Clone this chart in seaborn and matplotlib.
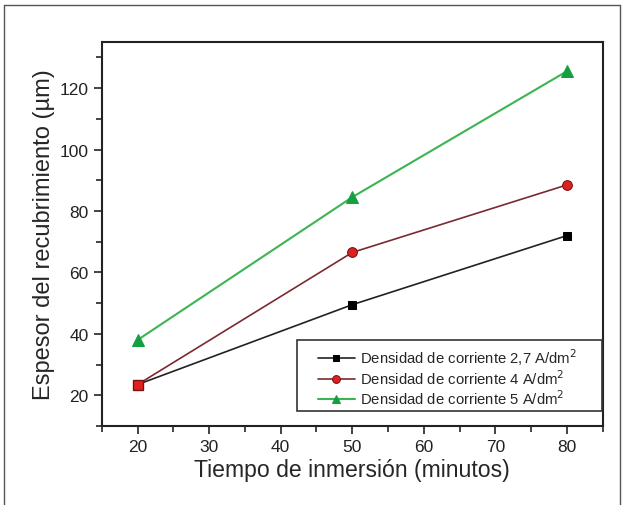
import matplotlib
matplotlib.use('Agg')
import matplotlib.pyplot as plt
import seaborn as sns
import pandas as pd
from matplotlib.ticker import MultipleLocator
from matplotlib.lines import Line2D
from matplotlib.patches import Rectangle

sns.set_style('ticks')
plt.rcParams['font.family'] = ['Liberation Sans', 'DejaVu Sans']

# Datos
tiempo = [20, 50, 80]
dens_27 = [23.5, 49.5, 72.0]
dens_4 = [23.5, 66.5, 88.5]
dens_5 = [38.0, 84.5, 125.5]
etiquetas = ['Densidad de corriente 2,7 A/dm$^2$',
             'Densidad de corriente 4 A/dm$^2$',
             'Densidad de corriente 5 A/dm$^2$']

fig = plt.figure(figsize=(6.24, 5.06), dpi=100)
ax = fig.add_axes([0.163, 0.156, 0.803, 0.759])

# outer frame of the figure
for xs, ys in [([0.007, 0.007], [0, 0.988]), ([0.007, 0.994], [0.988, 0.988]),
               ([0.994, 0.994], [0, 0.988])]:
    fig.add_artist(Line2D(xs, ys, color='#555555', lw=1.0))

sns.lineplot(x=tiempo, y=dens_27, ax=ax, color='#222222', lw=1.2, marker='s',
             markersize=6, markerfacecolor='black', markeredgecolor='black', label=etiquetas[0])
sns.lineplot(x=tiempo, y=dens_4, ax=ax, color='#7a2a30', lw=1.2, marker='o',
             markersize=7, markerfacecolor='#e02020', markeredgecolor='#7a1010', label=etiquetas[1])
sns.lineplot(x=tiempo, y=dens_5, ax=ax, color='#3cb454', lw=1.5, marker='^',
             markersize=8, markerfacecolor='#14a040', markeredgecolor='#14a040', label=etiquetas[2])
# red square hides black one at 20 min in the original
ax.plot([20], [23.5], marker='s', markersize=7, color='#e02020', markeredgecolor='#7a1010', ls='none')

ax.set_xlim(15, 85)
ax.set_ylim(10, 135)
ax.xaxis.set_major_locator(MultipleLocator(10))
ax.xaxis.set_minor_locator(MultipleLocator(5))
ax.yaxis.set_major_locator(MultipleLocator(20))
ax.yaxis.set_minor_locator(MultipleLocator(10))
ax.set_xticks([20, 30, 40, 50, 60, 70, 80])
ax.set_yticks([20, 40, 60, 80, 100, 120])
ax.tick_params(which='major', direction='out', length=6, width=1.2, labelsize=12.5, colors='#222222')
ax.tick_params(which='minor', direction='out', length=4, width=1.2)
for s in ax.spines.values():
    s.set_visible(True)
    s.set_linewidth(1.5)
    s.set_color('#222222')

ax.set_xlabel('Tiempo de inmersión (minutos)', fontsize=16.6, labelpad=3)
ax.set_ylabel('Espesor del recubrimiento (µm)', fontsize=17, labelpad=3)

# legend box drawn separately so its padding can match the original
ax.add_patch(Rectangle((0.389, 0.039), 0.609, 0.185, transform=ax.transAxes,
                       facecolor='white', edgecolor='#333333', lw=1.2, zorder=4))
leg = ax.legend(loc='upper left', fontsize=10.7, frameon=False,
                borderpad=0, handlelength=2.5, labelspacing=0.1,
                handletextpad=0.35, markerscale=0.8, borderaxespad=0,
                bbox_to_anchor=(0.431, 0.208))
leg.set_zorder(5)

fig.savefig('out.png', dpi=100)
